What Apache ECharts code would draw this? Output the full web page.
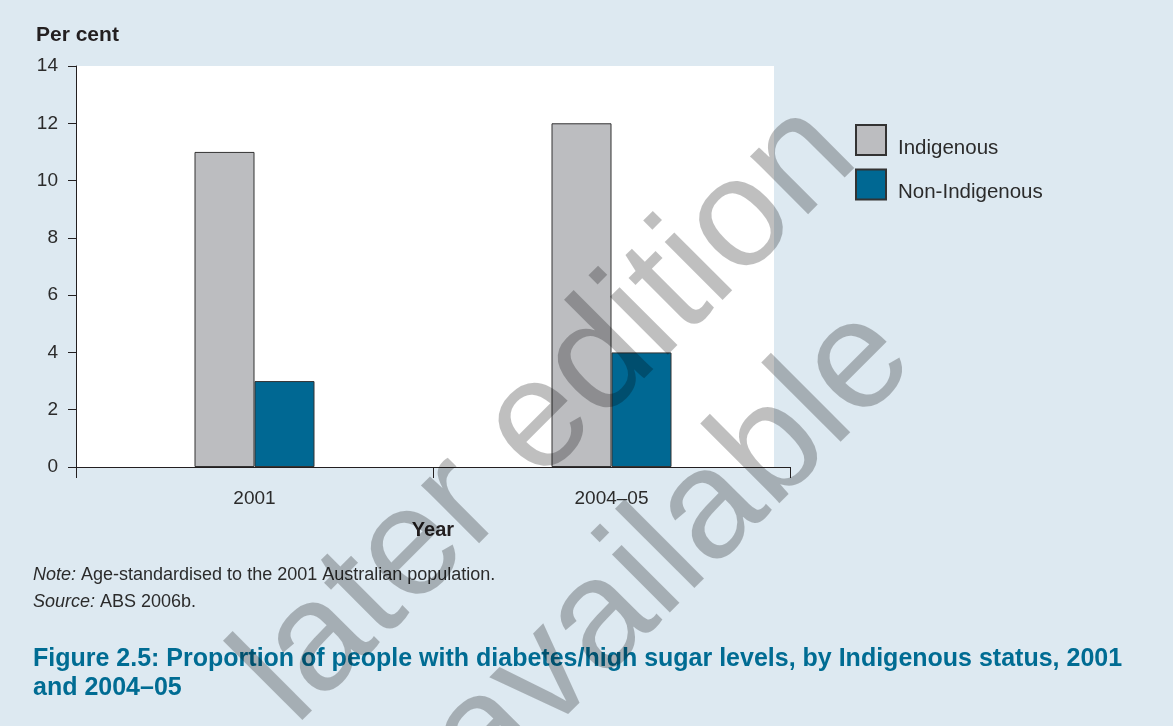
<!DOCTYPE html>
<html>
<head>
<meta charset="utf-8">
<script src="https://cdn.jsdelivr.net/npm/echarts@6/dist/echarts.min.js"></script>
<style>
html,body{margin:0;padding:0;background:#dde9f1;}
#chart{width:1173px;height:726px;}
</style>
</head>
<body>
<div id="chart"></div>
<script>
const categories = ['2001', '2004–05'];
const indigenous = [11, 12];
const nonIndigenous = [3, 4];
const yTicks = { min: 0, max: 14, interval: 2 };
const seriesNames = ['Indigenous', 'Non-Indigenous'];
const yAxisTitle = 'Per cent';
const xAxisTitle = 'Year';
const noteText = 'Age-standardised to the 2001 Australian population.';
const sourceText = 'ABS 2006b.';
const figureTitle = 'Figure 2.5: Proportion of people with diabetes/high sugar levels, by Indigenous status, 2001\nand 2004–05';
const watermark = ['later edition', 'available'];

const FONT = '"Liberation Sans", Arial, Helvetica, sans-serif';
const chart = echarts.init(document.getElementById('chart'), null, { renderer: 'canvas' });

const noteTok = { fontFamily: FONT, fontSize: 18, color: '#2b2b2b', lineHeight: 27, verticalAlign: 'bottom' };

const option = {
  backgroundColor: '#dde9f1',
  animation: false,
  textStyle: { fontFamily: FONT },
  title: [
    { text: yAxisTitle, left: 31, top: 20, textStyle: { fontFamily: FONT, fontSize: 21, fontWeight: 'bold', color: '#231f20' } },
    {
      text: '{i|Note:}{n| ' + noteText + '}\n{i|Source:}{n| ' + sourceText + '}',
      left: 28, top: 552,
      textStyle: {
        fontFamily: FONT, fontSize: 18, color: '#2b2b2b', lineHeight: 27, fontWeight: 'normal',
        rich: {
          i: Object.assign({}, noteTok, { fontStyle: 'italic' }),
          n: Object.assign({}, noteTok)
        }
      }
    },
    { text: figureTitle, left: 28, top: 640, textStyle: { fontFamily: FONT, fontSize: 25, fontWeight: 'bold', color: '#006c93', lineHeight: 29 } }
  ],
  legend: {
    orient: 'vertical', left: 850, top: 119, itemWidth: 30, itemHeight: 30, itemGap: 10,
    icon: 'rect', data: seriesNames,
    formatter: function (name) { return '{t|' + name + '}'; },
    textStyle: {
      fontFamily: FONT, fontSize: 20.5, color: '#2b2b2b',
      rich: { t: { fontFamily: FONT, fontSize: 20.5, color: '#2b2b2b', padding: [16, 0, 0, 7] } }
    }
  },
  grid: { left: 76, top: 66, width: 714, height: 401, containLabel: false },
  xAxis: {
    type: 'category', data: categories,
    name: xAxisTitle, nameLocation: 'middle', nameGap: 53,
    nameTextStyle: { fontFamily: FONT, fontSize: 20, fontWeight: 'bold', color: '#231f20' },
    axisLine: { show: true, lineStyle: { color: '#231f20', width: 1 } },
    axisTick: { show: true, length: 11, lineStyle: { color: '#231f20' } },
    axisLabel: { fontFamily: FONT, fontSize: 19, color: '#2b2b2b', margin: 22 },
    splitLine: { show: false }
  },
  yAxis: {
    type: 'value', min: yTicks.min, max: yTicks.max, interval: yTicks.interval,
    axisLine: { show: true, lineStyle: { color: '#231f20', width: 1 } },
    axisTick: { show: true, length: 8, lineStyle: { color: '#231f20' } },
    axisLabel: { fontFamily: FONT, fontSize: 19, color: '#2b2b2b', margin: 18 },
    splitLine: { show: false }
  },
  graphic: [
    { type: 'rect', z: -1, silent: true, shape: { x: 76, y: 66, width: 698, height: 401 }, style: { fill: '#ffffff' } },
    { type: 'text', z: 100, silent: true, x: 548, y: 414, rotation: Math.PI / 4,
      style: { text: watermark[0], fontFamily: FONT, fontSize: 155, fill: 'rgba(0,0,0,0.25)', align: 'center', verticalAlign: 'middle' } },
    { type: 'text', z: 100, silent: true, x: 672, y: 550, rotation: Math.PI / 4,
      style: { text: watermark[1], fontFamily: FONT, fontSize: 155, fill: 'rgba(0,0,0,0.25)', align: 'center', verticalAlign: 'middle' } }
  ],
  series: [
    { name: seriesNames[0], type: 'bar', data: indigenous, barWidth: 60, barGap: '0%',
      itemStyle: { color: '#bcbdc0', borderColor: '#333333', borderWidth: 1 } },
    { name: seriesNames[1], type: 'bar', data: nonIndigenous, barWidth: 60, barGap: '0%',
      itemStyle: { color: '#006893', borderColor: '#333333', borderWidth: 1 } }
  ]
};
chart.setOption(option);
</script>
</body>
</html>
